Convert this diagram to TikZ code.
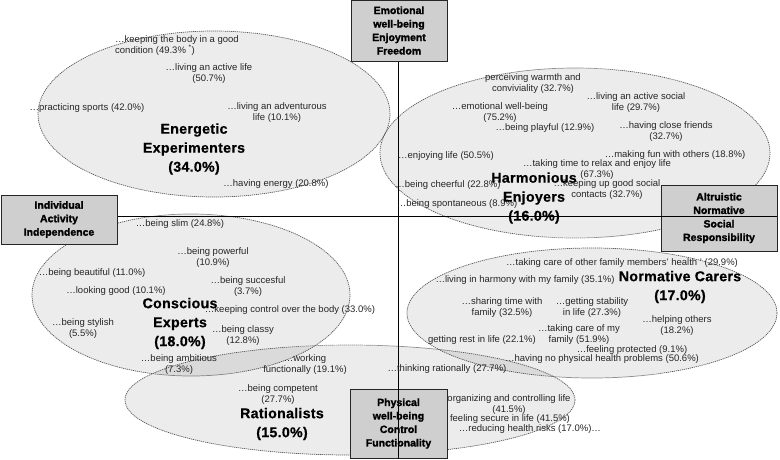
\documentclass[tikz,border=0pt]{standalone}
\usepackage{fontspec}
\setmainfont{Liberation Sans}
\newfontfamily\heavyfont[FakeBold=1.6]{Liberation Sans Bold}
\newfontfamily\bigfont[FakeBold=0.6,LetterSpace=2]{Liberation Sans Bold}
\begin{document}
\begin{tikzpicture}[x=1pt,y=-1pt]
\tikzset{
 lbl/.style={font=\fontsize{9.5}{11}\selectfont, text=black!85, inner sep=0pt, align=center},
 big/.style={font=\bigfont\fontsize{14.2}{19}\selectfont, text=black, inner sep=0pt, align=center},
 axbox/.style={draw=black!85, line width=1pt, fill=black!19, font=\heavyfont\fontsize{10.5}{13.5}\selectfont, align=center, inner sep=0pt},
 ell/.style={draw=black!65, line width=0.7pt, dash pattern=on 1.2pt off 0.8pt, fill=black, fill opacity=0.075},
 axisline/.style={draw=black, line width=1pt}
}
\useasboundingbox (0,0) rectangle (780,459);

% clusters
\draw[ell] (214,114) ellipse [x radius=176pt, y radius=83pt];
\draw[ell] (575,153) ellipse [x radius=195pt, y radius=85pt];
\draw[ell] (191,295) ellipse [x radius=159pt, y radius=81pt];
\draw[ell] (592,313) ellipse [x radius=185pt, y radius=65pt];
\draw[ell] (350,400) ellipse [x radius=225pt, y radius=55pt];

% axis boxes
\node[axbox, minimum width=96pt, minimum height=61pt] (top) at (399,30.5) {Emotional\\well-being\\Enjoyment\\Freedom};
\node[axbox, minimum width=116pt, minimum height=49pt] (left) at (59,219.5) {Individual\\Activity\\Independence};
\node[axbox, minimum width=116pt, minimum height=66pt] (right) at (719,218) {Altruistic\\Normative\\Social\\Responsibility};
\node[axbox, minimum width=97pt, minimum height=69pt] (bottom) at (398.5,423.5) {Physical\\well-being\\Control\\Functionality};

% axes
\coordinate (vB) at (398,459);
\coordinate (hR) at (777,216);
\draw[axisline] (top.south -| vB) -- (vB);
\draw[axisline] (left.east |- hR) -- (hR);

% Energetic Experimenters
\node[lbl, align=left, anchor=west] (e1) at (115,45.5) {…keeping the body in a good\\condition (49.3\% \textsuperscript{*})};
\node[lbl] (e2) at (209,74) {…living an active life\\(50.7\%)};
\node[lbl] (e3) at (87,108) {…practicing sports (42.0\%)};
\node[lbl] (e4) at (277,112.5) {…living an adventurous\\life (10.1\%)};
\node[big] (E) at (194,149) {Energetic\\Experimenters\\(34.0\%)};
\node[lbl] (e5) at (276,184) {…having energy (20.8\%)};

% Harmonious Enjoyers
\node[lbl] (h1) at (533,83.5) {perceiving warmth and\\conviviality (32.7\%)};
\node[lbl] (h2) at (636,102.5) {…living an active social\\life (29.7\%)};
\node[lbl] (h3) at (500,112.5) {…emotional well-being\\(75.2\%)};
\node[lbl] (h4) at (545,128) {…being playful (12.9\%)};
\node[lbl] (h5) at (666,131.5) {…having close friends\\(32.7\%)};
\node[lbl] (h6) at (446,156) {…enjoying life (50.5\%)};
\node[lbl] (h7) at (675,155) {…making fun with others (18.8\%)};
\node[lbl] (h8) at (597,169.5) {…taking time to relax and enjoy life\\(67.3\%)};
\node[lbl] (h9) at (448,185) {…being cheerful (22.8\%)};
\node[lbl] (h10) at (607,189.5) {…keeping up good social\\contacts (32.7\%)};
\node[lbl] (h11) at (457,204) {…being spontaneous (8.9\%)};
\node[big] (H) at (534,198) {Harmonious\\Enjoyers\\(16.0\%)};

% Conscious Experts
\node[lbl] (c1) at (180,224) {…being slim (24.8\%)};
\node[lbl] (c2) at (213,258) {…being powerful\\(10.9\%)};
\node[lbl] (c3) at (92,273) {…being beautiful (11.0\%)};
\node[lbl] (c4) at (248,286.5) {…being succesful\\(3.7\%)};
\node[lbl] (c5) at (116,291) {…looking good (10.1\%)};
\node[lbl] (c6) at (290,310) {…keeping control over the body (33.0\%)};
\node[lbl] (c7) at (83,328.5) {…being stylish\\(5.5\%)};
\node[lbl] (c8) at (243,335.5) {…being classy\\(12.8\%)};
\node[lbl] (c9) at (179,365) {…being ambitious\\(7.3\%)};
\node[lbl] (c10) at (305,364.5) {…working\\functionally (19.1\%)};
\node[big] (C) at (180,323.5) {Conscious\\Experts\\(18.0\%)};

% Normative Carers
\node[lbl] (n1) at (622,263) {…taking care of other family members' health ' (29.9\%)};
\node[lbl] (n2) at (525,280) {…living in harmony with my family (35.1\%)};
\node[big] (N) at (680,287) {Normative Carers\\(17.0\%)};
\node[lbl] (n3) at (502,307.5) {…sharing time with\\family (32.5\%)};
\node[lbl] (n4) at (592,307.5) {…getting stability\\in life (27.3\%)};
\node[lbl] (n5) at (677,325.5) {…helping others\\(18.2\%)};
\node[lbl] (n6) at (579,334.5) {…taking care of my\\family (51.9\%)};
\node[lbl] (n7) at (482,340) {getting rest in life (22.1\%)};
\node[lbl] (n8) at (632,350) {…feeling protected (9.1\%)};
\node[lbl] (n9) at (602,359) {…having no physical health problems (50.6\%)};
\node[lbl] (n10) at (447,369) {…thinking rationally (27.7\%)};

% Rationalists
\node[lbl] (r1) at (278,395) {…being competent\\(27.7\%)};
\node[big] (R) at (282,424) {Rationalists\\(15.0\%)};
\node[lbl] (r2) at (509,405) {organizing and controlling life\\(41.5\%)};
\node[lbl] (r3) at (510,419) {feeling secure in life (41.5\%)};
\node[lbl] (r4) at (530,429) {…reducing health risks (17.0\%)…};
\end{tikzpicture}
\end{document}
